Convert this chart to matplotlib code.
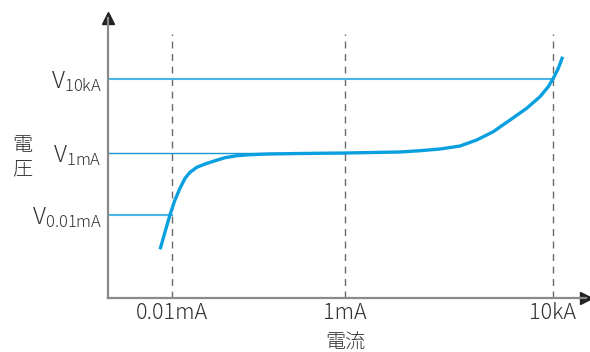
import numpy as np
import matplotlib as mpl
from matplotlib import pyplot as plt

plt.rcParams['font.family'] = ['Noto Sans CJK JP', 'DejaVu Sans']

# tick positions along the current axis (not a true log scale in the source)
tick_pos = [1.0, 2.0, 3.2]
tick_labels = ['0.01mA', '1mA', '10kA']

# reference voltages (arbitrary units)
v_levels = [0.83, 1.45, 2.19]
v_names = ['0.01mA', '1mA', '10kA']

# V-I curve points
curve_x = [0.931, 0.960, 0.988, 1.017, 1.046, 1.075, 1.104, 1.143, 1.191, 1.249,
           1.306, 1.374, 1.451, 1.555, 1.740, 2.000, 2.318, 2.434, 2.549, 2.665,
           2.761, 2.857, 2.954, 3.050, 3.127, 3.175, 3.204, 3.233, 3.258]
curve_y = [0.487, 0.663, 0.830, 0.980, 1.097, 1.197, 1.257, 1.307, 1.340, 1.373,
           1.403, 1.423, 1.433, 1.440, 1.445, 1.450, 1.460, 1.473, 1.490, 1.520,
           1.580, 1.663, 1.780, 1.897, 2.013, 2.113, 2.197, 2.297, 2.413]

W, H = 590, 352
fig = plt.figure(figsize=(W / 100, H / 100), dpi=100)
ax = fig.add_axes([108 / W, (H - 298) / H, (586 - 108) / W, (298 - 18) / H])
ax.set_xlim(0.630, 3.393)
ax.set_ylim(0, 2.80)

for s in ['top', 'right']:
    ax.spines[s].set_visible(False)
for s in ['left', 'bottom']:
    ax.spines[s].set_color('#8a8a8a')
    ax.spines[s].set_linewidth(1.6)

# arrow heads
ax.plot(1, 0, '>', color='#222222', markersize=8, transform=ax.transAxes, clip_on=False)
ax.plot(0, 1, '^', color='#222222', markersize=8, transform=ax.transAxes, clip_on=False)

ax.set_xticks(tick_pos)
ax.set_xticklabels(tick_labels, fontsize=15.5, color='#333333', fontweight='light')
ax.tick_params(axis='x', length=0, pad=3)
ax.set_yticks([])

# dashed guides
for x in tick_pos:
    ax.plot([x, x], [0, 2.64], color='#6a6a6a', lw=1, ls=(0, (5, 4)))

# reference levels
ax.plot([0.630, tick_pos[0]], [v_levels[0], v_levels[0]], color='#4ab6e6', lw=1.5)
ax.plot([0.630, tick_pos[1]], [v_levels[1], v_levels[1]], color='#1a98d2', lw=1.0)
ax.plot([0.630, tick_pos[2]], [v_levels[2], v_levels[2]], color='#4ab6e6', lw=1.5)

ax.plot(curve_x, curve_y, color='#0aa0e0', lw=2.4, solid_capstyle='butt')

for v, name in zip(v_levels, v_names):
    ax.text(0.595, v - 0.09, r'$\mathregular{V_{%s}}$' % name, ha='right', va='baseline',
            fontsize=17, color='#333333', fontweight='light', clip_on=False)

fig.text(22 / W, 1 - 157 / H, '電\n圧', ha='center', va='center', fontsize=14.5,
         color='#333333', linespacing=1.15, fontweight='light')
fig.text(345 / W, 1 - 343 / H, '電流', ha='center', va='center', fontsize=14.5,
         color='#333333', fontweight='light')

plt.savefig('out.png', dpi=100)
plt.close()
